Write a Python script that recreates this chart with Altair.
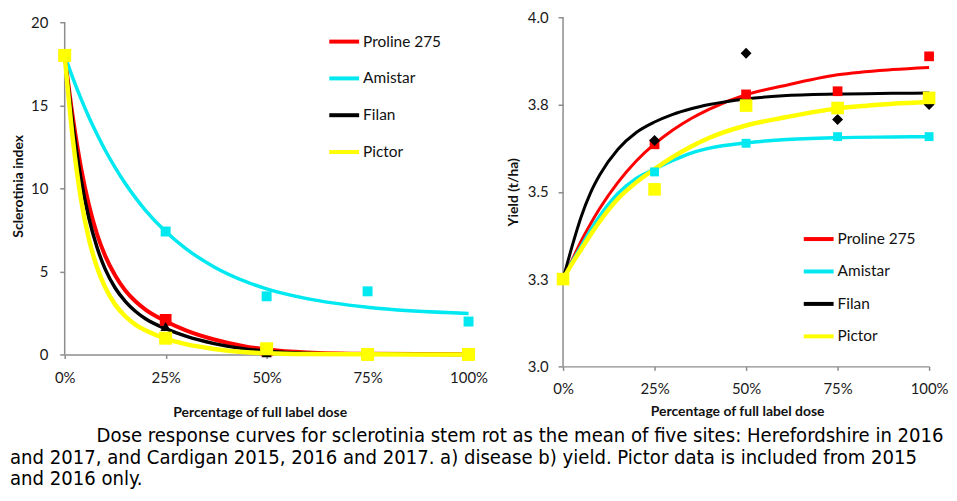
import altair as alt
import pandas as pd

# ---------------- data ----------------
series = ["Proline 275", "Amistar", "Filan", "Pictor"]
series_colors = ["#FF0000", "#00E8F0", "#000000", "#FFFF00"]
doses = [0, 25, 50, 75, 100]

# a) disease: observed means (Sclerotinia index)
sclero_proline = [18.0, 2.08, 0.25, 0.0, 0.0]
sclero_amistar = [18.0, 7.4, 3.5, 3.8, 1.98]
sclero_filan = [18.0, 1.68, 0.1, 0.03, 0.0]
sclero_pictor = [18.0, 0.98, 0.34, 0.0, 0.0]

# a) fitted curves
curve_dose_a = [0, 2, 4, 6, 8, 10, 12.5, 15, 17.5, 20, 25, 30, 37, 45, 50, 60, 75, 100]
fit_sclero_proline = [18, 14.3, 11.3, 9.0, 7.25, 5.95, 4.75, 3.85, 3.2, 2.7, 2.0, 1.45, 0.9, 0.47, 0.3, 0.12, 0.035, 0.005]
fit_sclero_amistar = [18, 16.65, 15.41, 14.28, 13.26, 12.31, 11.25, 10.29, 9.44, 8.68, 7.40, 6.37, 5.27, 4.37, 3.95, 3.36, 2.84, 2.47]
fit_sclero_filan = [18, 13.9, 10.6, 8.2, 6.45, 5.15, 4.0, 3.2, 2.6, 2.15, 1.55, 1.1, 0.65, 0.32, 0.2, 0.07, 0.02, 0.003]
fit_sclero_pictor = [18, 13.0, 9.4, 6.95, 5.25, 4.05, 3.0, 2.3, 1.8, 1.45, 0.95, 0.62, 0.33, 0.13, 0.07, 0.02, 0.005, 0.0]

# b) yield: observed means (t/ha)
yield_proline = [3.25, 3.636, 3.779, 3.788, 3.888]
yield_amistar = [3.25, 3.557, 3.639, 3.658, 3.658]
yield_filan = [3.25, 3.647, 3.897, 3.707, 3.750]
yield_pictor = [3.25, 3.507, 3.747, 3.740, 3.769]

# b) fitted curves
curve_dose_b = [0, 2.5, 5, 7.5, 10, 15, 20, 25, 30, 35, 40, 50, 60, 75, 90, 100]
fit_yield_proline = [3.25, 3.305, 3.36, 3.408, 3.452, 3.527, 3.588, 3.637, 3.677, 3.71, 3.737, 3.778, 3.803, 3.835, 3.85, 3.856]
fit_yield_amistar = [3.25, 3.30, 3.345, 3.39, 3.43, 3.495, 3.538, 3.565, 3.59, 3.611, 3.625, 3.64, 3.649, 3.655, 3.657, 3.658]
fit_yield_filan = [3.25, 3.345, 3.43, 3.497, 3.548, 3.622, 3.67, 3.70, 3.722, 3.738, 3.75, 3.766, 3.775, 3.780, 3.782, 3.783]
fit_yield_pictor = [3.25, 3.295, 3.336, 3.377, 3.415, 3.48, 3.527, 3.565, 3.6, 3.63, 3.655, 3.69, 3.712, 3.739, 3.752, 3.757]

sclero_ticks = [0, 5, 10, 15, 20]
yield_ticks = [3.0, 3.25, 3.5, 3.75, 4.0]

caption_lines = [
    "Dose response curves for sclerotinia stem rot as the mean of five sites: Herefordshire in 2016",
    "and 2017, and Cardigan 2015, 2016 and 2017. a) disease b) yield. Pictor data is included from 2015",
    "and 2016 only.",
]

# ---------------- helpers ----------------
FONT = "Lato"
AXIS_GREY = "#8C8C8C"
color_scale = alt.Scale(domain=series, range=series_colors)


def long_df(xs, ys, name):
    return pd.DataFrame({"dose": xs, "value": ys, "series": name})


def panel(obs, fits, curve_x, ydomain, yticks, yfmt, ytitle, width, height,
          line_widths, marker_shapes, marker_sizes, legend_xy, row_pad,
          xlab_pad, xtitle_pad, xtitle_x, ylab_pad, ytitle_pad):
    xenc = alt.X("dose:Q", scale=alt.Scale(domain=[0, 100], nice=False),
                 axis=alt.Axis(values=doses, labelExpr="datum.value + '%'",
                               title="Percentage of full label dose",
                               tickSize=4, labelPadding=xlab_pad, titlePadding=xtitle_pad,
                               titleX=xtitle_x, labelFlush=False))
    axis_kw = dict(values=yticks, title=ytitle, tickSize=5, labelPadding=ylab_pad,
                   titlePadding=ytitle_pad, domain=False)
    if yfmt:
        axis_kw["format"] = yfmt
    yscale = alt.Scale(domain=ydomain, nice=False, zero=False)
    yenc = alt.Y("value:Q", scale=yscale, axis=alt.Axis(**axis_kw))

    legend = alt.Legend(orient="none", legendX=legend_xy[0], legendY=legend_xy[1], title=None,
                        symbolType="stroke", symbolSize=900, symbolStrokeWidth=4,
                        labelFont=FONT, labelFontSize=15.5, labelColor="#111111",
                        rowPadding=row_pad, padding=0, labelOffset=2)
    # vertical axis line spanning the tick range
    layers = [
        alt.Chart(pd.DataFrame({"value": [yticks[0]], "hi": [yticks[-1]]}))
        .mark_rule(color=AXIS_GREY, strokeWidth=1.5)
        .encode(x=alt.value(0), y=yenc, y2="hi:Q")
    ]
    for name, ys, w in zip(series, fits, line_widths):
        layers.append(
            alt.Chart(long_df(curve_x, ys, name)).mark_line(strokeWidth=w, interpolate="monotone")
            .encode(x=xenc, y=yenc, color=alt.Color("series:N", scale=color_scale, legend=legend))
        )
    for name, ys, col, shp, sz in zip(series, obs, series_colors, marker_shapes, marker_sizes):
        layers.append(
            alt.Chart(long_df(doses, ys, name)).mark_point(filled=True, opacity=1, shape=shp, size=sz,
                                                           color=col, strokeWidth=0)
            .encode(x=xenc, y=yenc)
        )
    return alt.layer(*layers).properties(width=width, height=height)


left = panel(
    obs=[sclero_proline, sclero_amistar, sclero_filan, sclero_pictor],
    fits=[fit_sclero_proline, fit_sclero_amistar, fit_sclero_filan, fit_sclero_pictor],
    curve_x=curve_dose_a, ydomain=[0, 20.3], yticks=sclero_ticks, yfmt=None,
    ytitle="Sclerotinia index", width=406, height=339,
    line_widths=[4, 3.5, 3.5, 4.5], marker_shapes=["square", "square", "triangle-up", "square"],
    marker_sizes=[140, 100, 110, 170], legend_xy=(264, 7.5), row_pad=11,
    xlab_pad=12, xtitle_pad=20, xtitle_x=196, ylab_pad=12, ytitle_pad=4.6,
)

right = panel(
    obs=[yield_proline, yield_amistar, yield_filan, yield_pictor],
    fits=[fit_yield_proline, fit_yield_amistar, fit_yield_filan, fit_yield_pictor],
    curve_x=curve_dose_b, ydomain=[3.0, 4.0], yticks=yield_ticks, yfmt=".1f",
    ytitle="Yield (t/ha)", width=368, height=351,
    line_widths=[3, 3.5, 3, 4.5], marker_shapes=["square", "square", "diamond", "square"],
    marker_sizes=[95, 80, 120, 160], legend_xy=(240, 206), row_pad=6.6,
    xlab_pad=11, xtitle_pad=8.5, xtitle_x=175, ylab_pad=10, ytitle_pad=7,
)

top = alt.hconcat(left, right, spacing=18).resolve_scale(color="independent").resolve_legend(color="independent")

cap_font = dict(font="DejaVu Sans Condensed", fontSize=20.2, color="#000000", align="left", baseline="alphabetic")
cap_base = alt.Chart(pd.DataFrame({"line": caption_lines}))
caption = alt.layer(
    cap_base.transform_filter(alt.datum.line == caption_lines[0]).mark_text(**cap_font).encode(
        text="line:N", x=alt.value(32), y=alt.value(23)),
    cap_base.transform_filter(alt.datum.line == caption_lines[1]).mark_text(**cap_font).encode(
        text="line:N", x=alt.value(-55), y=alt.value(45.5)),
    cap_base.transform_filter(alt.datum.line == caption_lines[2]).mark_text(**cap_font).encode(
        text="line:N", x=alt.value(-55), y=alt.value(66)),
).properties(width=800, height=40)

chart = alt.vconcat(top, caption, spacing=0).properties(
    padding={"left": 2, "top": 1, "right": 0, "bottom": 0},
    background="#FFFFFF",
).configure_view(stroke=None).configure_axis(
    grid=False, domainColor=AXIS_GREY, domainWidth=1.5, tickColor=AXIS_GREY, tickWidth=1.5,
    labelFont=FONT, labelFontSize=15, labelColor="#1A1A1A",
    titleFont=FONT, titleFontSize=14, titleFontWeight="bold", titleColor="#111111",
)

chart.save("out.html", embed_options={"renderer": "svg", "actions": False})
